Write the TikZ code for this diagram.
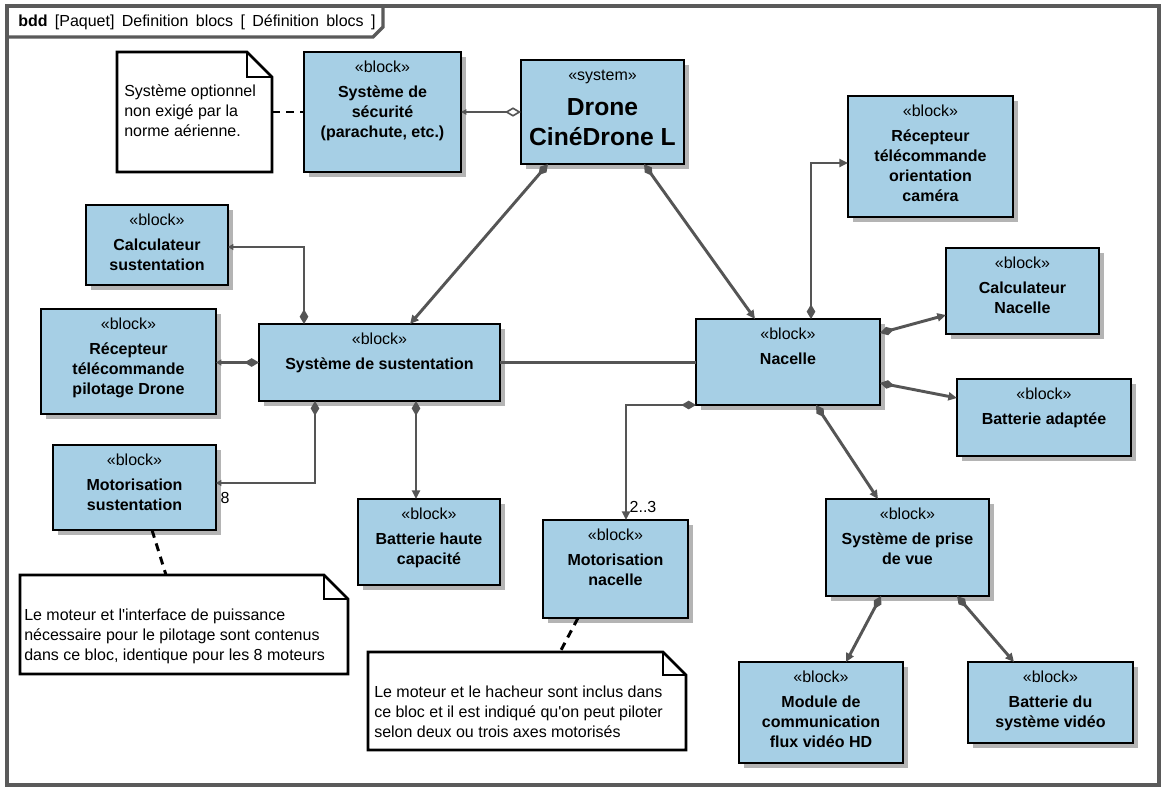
\documentclass[tikz,border=0pt]{standalone}
\usepackage{fontspec}
\setmainfont{Liberation Sans}
\usetikzlibrary{arrows.meta,calc}
\definecolor{blockfill}{RGB}{166,207,229}
\definecolor{linec}{RGB}{85,85,85}
\definecolor{framec}{RGB}{90,90,90}
\definecolor{shadowc}{RGB}{180,180,180}
\tikzset{
 blockbox/.style={draw=black, line width=2.2pt, fill=blockfill, rectangle, inner sep=0pt, outer sep=0pt},
 stereo/.style={anchor=base, inner sep=0pt, font=\fontsize{12}{15}\selectfont},
 bname/.style={anchor=north, inner sep=0pt, align=center, font=\bfseries\fontsize{12}{15}\selectfont},
 notetext/.style={anchor=north west, inner sep=0pt, align=left, font=\fontsize{12}{15}\selectfont},
 lbl/.style={inner sep=0pt, font=\fontsize{12}{15}\selectfont},
 conn/.style={draw=linec, line width=2.2pt},
 comp/.style={conn, {Diamond[length=11pt,width=6.5pt]}-{Triangle[length=6.5pt,width=6pt]}},
 compsmall/.style={conn, {Diamond[length=11pt,width=6.5pt]}-{Triangle[length=4pt,width=4.5pt]}},
 notelink/.style={draw=black, line width=2.2pt, dash pattern=on 6pt off 4.5pt},
 notebox/.style={draw=black, line width=2pt, fill=white, line join=miter},
}
\newcommand\mkblock[7]{%
 \fill[shadowc] ({#2+5},{#3+5}) rectangle ({#4+5},{#5+5});
 \node[blockbox, minimum width={(#4-#2)*0.75pt}, minimum height={(#5-#3)*0.75pt}] (#1) at ({(#2+#4)/2},{(#3+#5)/2}) {};
 \node[stereo] (#1s) at ({(#2+#4)/2},{#3+20}) {«#6»};
 \node[bname] (#1n) at ({(#2+#4)/2},{#3+29.5}) {\rule{0pt}{12pt}#7};
}
\newcommand\mknote[6]{%
 \draw[notebox] (#2,#3) -- ({#4-#6},#3) -- (#4,{#3+#6}) -- (#4,#5) -- (#2,#5) -- cycle;
 \draw[notebox, fill=none] ({#4-#6},#3) -- ({#4-#6},{#3+#6}) -- (#4,{#3+#6});
 \node[inner sep=0pt, outer sep=0pt, minimum width={(#4-#2)*0.75pt}, minimum height={(#5-#3)*0.75pt}] (#1) at ({(#2+#4)/2},{(#3+#5)/2}) {};
}
\begin{document}
\begin{tikzpicture}[x=0.75pt, y=-0.75pt]
\useasboundingbox (0,0) rectangle (1166,790);
% frame
\draw[framec, line width=2.5pt, fill=white] (7,6) rectangle (1159,785);
\draw[framec, line width=2.5pt] (7,37) -- (373,37) -- (383,27) -- (383,6);
\node[anchor=base west, inner sep=0pt, font=\fontsize{12}{15}\selectfont] (title) at (18,26.5)
 {\textbf{bdd}\hspace{5.5pt}[Paquet]\hspace{5.5pt}Definition\hspace{5.5pt}blocs\hspace{5.5pt}[\hspace{5.5pt}Définition\hspace{5.5pt}blocs\hspace{5.5pt}]};

% notes
\mknote{noteA}{117}{52}{272}{172}{25}
\node[notetext] (noteAt) at (124,80.5) {\rule{0pt}{12pt}Système optionnel\\non exigé par la\\norme aérienne.};
\mknote{noteB}{20}{575}{348}{674}{24}
\node[notetext] (noteBt) at (24,604.5) {\rule{0pt}{12pt}Le moteur et l\textquotesingle interface de puissance\\nécessaire pour le pilotage sont contenus\\dans ce bloc, identique pour les 8 moteurs};
\mknote{noteC}{368}{652}{686}{750}{23}
\node[notetext] (noteCt) at (374,681.5) {\rule{0pt}{12pt}Le moteur et le hacheur sont inclus dans\\ce bloc et il est indiqué qu\textquotesingle on peut piloter\\selon deux ou trois axes motorisés};

% blocks
\mkblock{secu}{304}{52}{461}{172}{block}{Système de\\sécurité\\(parachute, etc.)}
\fill[shadowc] (526,65) rectangle (689,169);
\node[blockbox, minimum width={163*0.75pt}, minimum height={104*0.75pt}] (drone) at (602.5,112) {};
\node[stereo] (drones) at (602.5,80) {«system»};
\node[anchor=north, inner sep=0pt, align=center, font=\bfseries\fontsize{18.5}{22.5}\selectfont] (dronen) at (602.5,90.8) {\rule{0pt}{18pt}Drone\\CinéDrone L};
\mkblock{recori}{848}{96}{1013}{217}{block}{Récepteur\\télécommande\\orientation\\caméra}
\mkblock{calcsus}{86}{205}{228}{285}{block}{Calculateur\\sustentation}
\mkblock{recpil}{41}{309}{216}{414}{block}{Récepteur\\télécommande\\pilotage Drone}
\mkblock{sust}{259}{324}{500}{401}{block}{Système de sustentation}
\mkblock{nac}{696}{319}{880}{405}{block}{Nacelle}
\mkblock{calcnac}{946}{248}{1099}{334}{block}{Calculateur\\Nacelle}
\mkblock{batad}{957}{379}{1131}{456}{block}{Batterie adaptée}
\mkblock{motsus}{53}{445}{216}{530}{block}{Motorisation\\sustentation}
\mkblock{bathc}{358}{499}{500}{585}{block}{Batterie haute\\capacité}
\mkblock{motnac}{543}{520}{688}{618}{block}{Motorisation\\nacelle}
\mkblock{pdv}{826}{499}{989}{596}{block}{Système de prise\\de vue}
\mkblock{module}{739}{662}{903}{763}{block}{Module de\\communication\\flux vidéo HD}
\mkblock{batvid}{968}{662}{1133}{743}{block}{Batterie du\\système vidéo}

% note links
\draw[notelink] (noteA.east) -- (secu.west);
\draw[notelink] ($(motsus.south)+(17.5,0)$) -- ($(noteB.north)+(-18,0)$);
\draw[notelink] ($(motnac.south)+(-37.5,0)$) -- ($(noteC.north)+(33,0)$);

% connectors
\draw[conn, {Triangle[length=4pt,width=4pt]}-{Diamond[length=12pt,width=7pt,fill=white,line width=1.2pt]}] (secu.east) -- (drone.west);
\draw[comp] ($(drone.south)+(-54.5,0)$) -- ($(sust.north)+(30.5,0)$);
\draw[comp] ($(drone.south)+(41.5,0)$) -- ($(nac.north)+(-33,0)$);
\draw[compsmall] ($(sust.north)+(-75.5,0)$) |- ($(calcsus.east)+(0,2)$);
\draw[compsmall] (sust.west) -- (sust.west -| recpil.east);
\draw[compsmall] ($(sust.south)+(-64.5,0)$) |- ($(motsus.east)+(0,-4.5)$);
\node[lbl] (mult8) at (225,498) {8};
\draw[comp] ($(sust.south)+(36.5,0)$) -- ($(bathc.north)+(-13,0)$);
\draw[conn] (sust.east) -- (sust.east -| nac.west);
\draw[comp] ($(nac.north)+(23,0)$) |- ($(recori.west)+(0,6.5)$);
\draw[comp] ($(nac.east)+(0,-29)$) -- ($(calcnac.west)+(0,24)$);
\draw[comp] ($(nac.east)+(0,21)$) -- ($(batad.west)+(0,-19.5)$);
\draw[comp] (nac.south west) -| ($(motnac.north)+(10.5,0)$);
\node[lbl] (mult23) at (643,507) {2..3};
\draw[comp] ($(nac.south)+(28,0)$) -- ($(pdv.north)+(-29.5,0)$);
\draw[comp] ($(pdv.south)+(-26.5,0)$) -- ($(module.north)+(25,0)$);
\draw[comp] ($(pdv.south)+(49.5,0)$) -- ($(batvid.north)+(-36.5,0)$);
\end{tikzpicture}
\end{document}
